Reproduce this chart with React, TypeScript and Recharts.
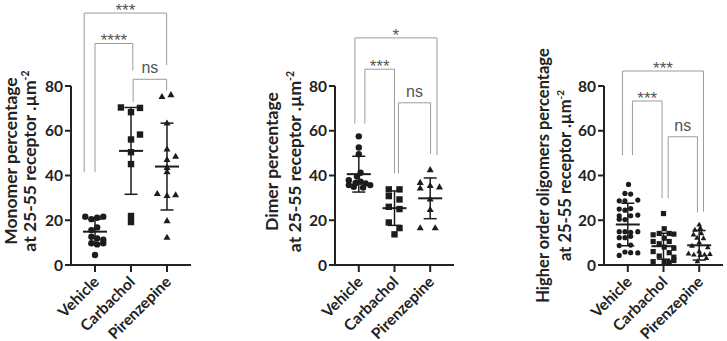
import React from "react";
import { ErrorBar, ReferenceLine, Scatter, ScatterChart, XAxis, YAxis } from "recharts";

const FONT = "Lato, 'Open Sans', sans-serif";
const INK = "#1c1c1c";
const GREY = "#9c9c9c";

const groups = ["Vehicle", "Carbachol", "Pirenzepine"];
const yTicks = [0, 20, 40, 60, 80];

// Monomer panel
const monomerVehicle = [21.6, 20.5, 21.1, 21.6, 16.8, 15.6, 12.6, 11.9, 11.3, 9.7, 9.2, 9.7, 4.5];
const monomerVehicleJitter = [-0.27, -0.1, 0.06, 0.23, 0.06, -0.1, -0.1, 0.06, 0.23, -0.1, 0.06, 0.23, 0];
const monomerCarbachol = [70.4, 68.3, 70.2, 58.3, 56.1, 50.4, 45.1, 21.9, 19.2];
const monomerCarbacholJitter = [-0.28, 0, 0.25, 0.25, 0, 0, 0, 0, 0];
const monomerPirenzepine = [75.1, 75.9, 63.2, 51.6, 48.4, 46.9, 43.4, 41.5, 31.7, 30.8, 31.2, 19.6, 12.2];
const monomerPirenzepineJitter = [-0.14, 0.11, 0, 0, 0.24, 0, 0, 0, -0.27, 0, 0.24, 0, 0];
const monomerMean = [14.9, 51, 44];
const monomerSd = [5.6, 19.4, 19.4];
const monomerBrackets = [
  { label: "***", x1: 0.7, x2: 2.99, top: 112.6, y1: 41.5, y2: 89.3 },
  { label: "****", x1: 1.0, x2: 2.05, top: 99, y1: 41.5, y2: 87 },
  { label: "ns", x1: 2.06, x2: 2.99, top: 83, y1: 72.9, y2: 78 },
];

// Dimer panel
const dimerVehicle = [57.5, 52.5, 49.5, 41.2, 39.5, 37.9, 36.7, 37.2, 36.5, 35.7, 35.7, 35, 34.6];
const dimerVehicleJitter = [0, 0, 0, 0.05, -0.05, -0.28, -0.09, 0.05, 0.19, 0.32, -0.28, -0.14, 0.12];
const dimerCarbachol = [33.8, 33.8, 30.8, 29.3, 26, 25, 19, 16.5, 13.7];
const dimerCarbacholJitter = [-0.16, 0.14, -0.16, 0.14, -0.16, 0.14, -0.16, 0.14, 0];
const dimerPirenzepine = [42.4, 36.7, 35.3, 34.7, 34.2, 29.3, 24.6, 16.4, 16.4];
const dimerPirenzepineJitter = [0, -0.28, 0, 0.26, -0.28, 0, 0, -0.28, 0.14];
const dimerMean = [40.6, 25.4, 29.8];
const dimerSd = [8, 7.7, 9.1];
const dimerBrackets = [
  { label: "*", x1: 0.89, x2: 3.19, top: 101.5, y1: 63.2, y2: 49.1 },
  { label: "***", x1: 1.17, x2: 2.0, top: 87.5, y1: 63.2, y2: 41 },
  { label: "ns", x1: 2.11, x2: 3.01, top: 72.5, y1: 41, y2: 49.6 },
];

// Higher order oligomers panel
const higherVehicle = [
  36, 32, 31.7, 28.7, 28.7, 29, 25, 24.5, 25.2, 22, 22, 22.3, 20.5, 20.3,
  14.9, 14.9, 14.6, 14.9, 12.2, 12.2, 12.8, 8.7, 8.9, 5.8, 5.5, 5.4, 4.3,
];
const higherVehicleJitter = [
  0.02, -0.08, 0.08, -0.24, -0.08, 0.28, -0.24, -0.08, 0.08, -0.24, 0.08, 0.28, -0.24, -0.08,
  -0.24, -0.08, 0.08, 0.28, -0.24, -0.08, 0.08, -0.24, 0.08, -0.08, 0.08, 0.28, -0.24,
];
const higherCarbachol = [23, 16.2, 14.1, 14.1, 13.5, 13.8, 12, 10.5, 10.5, 9.5, 8, 7.5, 6, 5.5, 4, 3.5, 1.5, 1.5, 1.2, 2];
const higherCarbacholJitter = [0, 0.02, -0.12, 0.16, -0.29, 0.29, 0.02, -0.29, 0.16, -0.12, 0.02, 0.29, -0.29, 0.16, -0.12, 0.29, -0.29, 0.02, 0.16, 0.29];
const higherPirenzepine = [17.9, 16.4, 15.6, 14, 13.5, 12, 11.8, 10, 8.5, 7.8, 6, 5, 4.5, 4.3, 4.5, 4.8, 1.5, 3];
const higherPirenzepineJitter = [0, 0.03, -0.12, 0.06, -0.16, -0.06, 0.12, 0, -0.2, 0.24, 0, -0.3, -0.15, 0.03, 0.15, 0.3, -0.05, 0.2];
const higherMean = [18.1, 8.4, 8.8];
const higherSd = [9.5, 5.8, 6.6];
const higherBrackets = [
  { label: "***", x1: 0.85, x2: 3.12, top: 86.7, y1: 49.1, y2: 23.8 },
  { label: "***", x1: 1.13, x2: 1.96, top: 73.3, y1: 49.1, y2: 29.8 },
  { label: "ns", x1: 2.13, x2: 2.95, top: 57.3, y1: 29.8, y2: 23.5 },
];

type Kind = "circle" | "square" | "triangle";
const kinds: Kind[] = ["circle", "square", "triangle"];

function marker(kind: Kind, size: number) {
  return (p: any) => {
    const { cx, cy } = p;
    if (kind === "circle") return <circle cx={cx} cy={cy} r={size / 2} fill={INK} />;
    if (kind === "square")
      return <rect x={cx - size / 2} y={cy - size / 2} width={size} height={size} fill={INK} />;
    const s = size * 1.1;
    const pts = `${cx},${cy - s * 0.577} ${cx - s / 2},${cy + s * 0.289} ${cx + s / 2},${cy + s * 0.289}`;
    return <polygon points={pts} fill={INK} />;
  };
}

const meanLine = (p: any) => (
  <line x1={p.cx - 12} x2={p.cx + 12} y1={p.cy} y2={p.cy} stroke={INK} strokeWidth={2} />
);

function CategoryTick({ x, y, payload }: any) {
  return (
    <text
      transform={`translate(${x + 5},${y + 9}) rotate(-45)`}
      textAnchor="end"
      fontFamily={FONT}
      fontWeight={700}
      fontSize={15.5}
      fill="#222"
    >
      {groups[payload.value - 1]}
    </text>
  );
}

function AxisTitle({ viewBox, lines, d1, d2, shift, size }: any) {
  const ax = viewBox.x + viewBox.width;
  const cy = viewBox.y + viewBox.height / 2 + shift;
  return (
    <g fontFamily={FONT} fontWeight={700} fontSize={size} fill="#222">
      <text transform={`translate(${ax + d1},${cy}) rotate(-90)`} textAnchor="middle">
        {lines[0]}
      </text>
      <text transform={`translate(${ax + d2},${cy}) rotate(-90)`} textAnchor="middle">
        {lines[1]}
        <tspan dy={-7} fontSize={size * 0.6}>
          -2
        </tspan>
      </text>
    </g>
  );
}

type PanelProps = {
  left: number;
  width: number;
  margin: { top: number; right: number; bottom: number; left: number };
  values: number[][];
  jitter: number[][];
  mean: number[];
  sd: number[];
  brackets: { label: string; x1: number; x2: number; top: number; y1: number; y2: number }[];
  title: [string, string];
  titlePos: { d1: number; d2: number; shift: number; size: number };
  markerSize: number;
};

function Panel({ left, width, margin, values, jitter, mean, sd, brackets, title, titlePos, markerSize }: PanelProps) {
  const stats = mean.map((m, i) => ({ x: i + 1, y: m, sd: sd[i] }));
  return (
    <div style={{ position: "absolute", left, top: 0 }}>
      <ScatterChart width={width} height={341} margin={margin}>
        <XAxis
          type="number"
          dataKey="x"
          domain={[1 / 3, 11 / 3]}
          ticks={[1, 2, 3]}
          allowDataOverflow
          height={70}
          tickSize={7}
          axisLine={{ stroke: "#222", strokeWidth: 2 }}
          tickLine={{ stroke: "#222", strokeWidth: 2 }}
          tick={<CategoryTick />}
          interval={0}
        />
        <YAxis
          type="number"
          dataKey="y"
          domain={[0, 80]}
          ticks={yTicks}
          allowDataOverflow
          width={60}
          tickSize={6}
          axisLine={{ stroke: "#222", strokeWidth: 2 }}
          tickLine={{ stroke: "#222", strokeWidth: 2 }}
          tick={{ fontFamily: FONT, fontWeight: 700, fontSize: 15.5, fill: "#222" }}
          label={<AxisTitle lines={title} {...titlePos} />}
        />
        {values.map((vals, g) => (
          <Scatter
            key={groups[g]}
            data={vals.map((v, i) => ({ x: g + 1 + jitter[g][i], y: v }))}
            shape={marker(kinds[g], markerSize)}
            isAnimationActive={false}
          />
        ))}
        <Scatter data={stats} shape={meanLine} isAnimationActive={false}>
          <ErrorBar dataKey="sd" direction="y" width={6.5} stroke={INK} strokeWidth={1.5} />
        </Scatter>
        {brackets.map((b, i) => [
          <ReferenceLine
            key={`l${i}`}
            ifOverflow="visible"
            stroke={GREY}
            strokeWidth={1}
            segment={[{ x: b.x1, y: b.y1 }, { x: b.x1, y: b.top }]}
          />,
          <ReferenceLine
            key={`r${i}`}
            ifOverflow="visible"
            stroke={GREY}
            strokeWidth={1}
            segment={[{ x: b.x2, y: b.y2 }, { x: b.x2, y: b.top }]}
          />,
          <ReferenceLine
            key={`t${i}`}
            ifOverflow="visible"
            stroke={GREY}
            strokeWidth={1}
            segment={[{ x: b.x1, y: b.top }, { x: b.x2, y: b.top }]}
            label={{
              value: b.label,
              position: "top",
              offset: b.label === "ns" ? 6 : -3,
              fill: "#555",
              fontSize: b.label === "ns" ? 16 : 17,
              fontFamily: "'Liberation Sans', Arial, sans-serif",
            }}
          />,
        ])}
      </ScatterChart>
    </div>
  );
}

export default function App() {
  return (
    <div style={{ position: "absolute", left: 0, top: 0, width: 727, height: 341, background: "#fff" }}>
      <Panel
        left={0}
        width={240}
        margin={{ top: 86, right: 49, bottom: 6, left: 11 }}
        values={[monomerVehicle, monomerCarbachol, monomerPirenzepine]}
        jitter={[monomerVehicleJitter, monomerCarbacholJitter, monomerPirenzepineJitter]}
        mean={monomerMean}
        sd={monomerSd}
        brackets={monomerBrackets}
        title={["Monomer percentage", "at 25-55 receptor .\u00b5m"]}
        titlePos={{ d1: -54.5, d2: -35, shift: -14.5, size: 17.5 }}
        markerSize={6.4}
      />
      <Panel
        left={240}
        width={240}
        margin={{ top: 86, right: 26, bottom: 6, left: 35 }}
        values={[dimerVehicle, dimerCarbachol, dimerPirenzepine]}
        jitter={[dimerVehicleJitter, dimerCarbacholJitter, dimerPirenzepineJitter]}
        mean={dimerMean}
        sd={dimerSd}
        brackets={dimerBrackets}
        title={["Dimer percentage", "at 25-55 receptor .\u00b5m"]}
        titlePos={{ d1: -57, d2: -34.5, shift: -14, size: 17.5 }}
        markerSize={6.4}
      />
      <Panel
        left={480}
        width={247}
        margin={{ top: 86, right: 4, bottom: 6, left: 64 }}
        values={[higherVehicle, higherCarbachol, higherPirenzepine]}
        jitter={[higherVehicleJitter, higherCarbacholJitter, higherPirenzepineJitter]}
        mean={higherMean}
        sd={higherSd}
        brackets={higherBrackets}
        title={["Higher order oligomers percentage", "at 25-55 receptor .\u00b5m"]}
        titlePos={{ d1: -55, d2: -33, shift: 0, size: 16.5 }}
        markerSize={5.2}
      />
    </div>
  );
}
